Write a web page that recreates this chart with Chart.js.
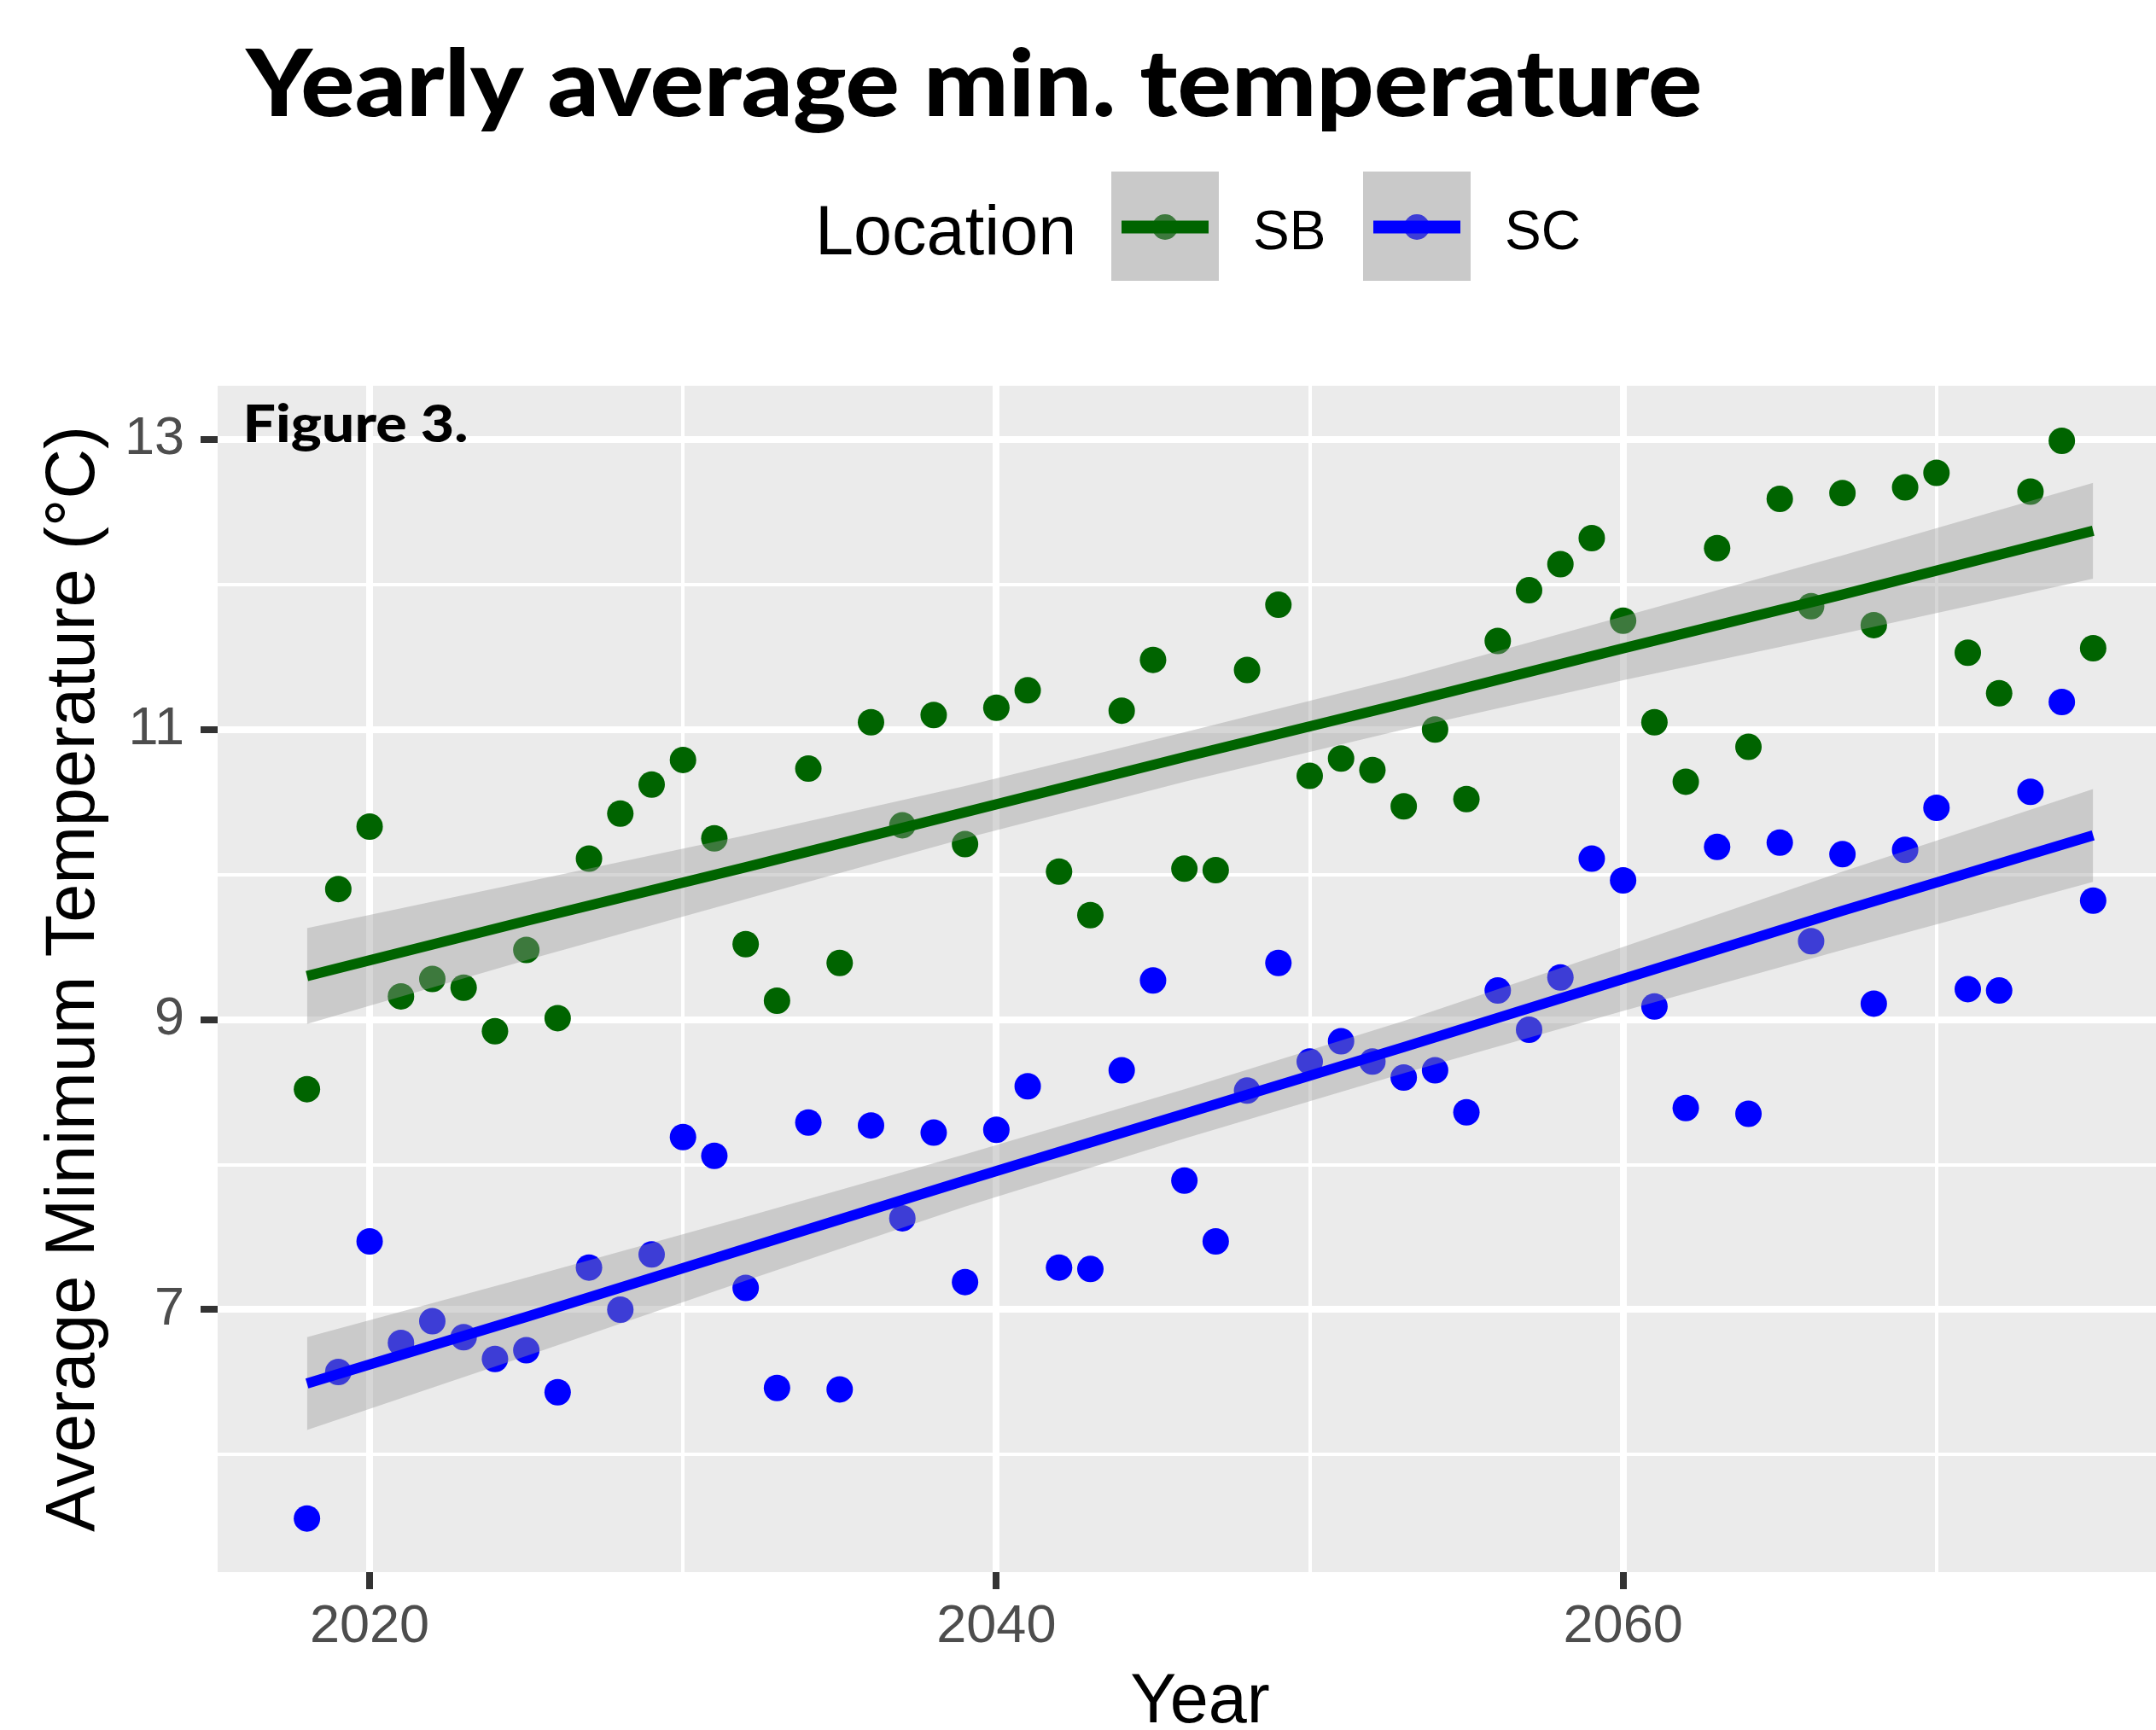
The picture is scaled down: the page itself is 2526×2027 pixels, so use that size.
<!DOCTYPE html>
<html>
<head>
<meta charset="utf-8">
<title>Yearly average min. temperature</title>
<script src="https://cdn.jsdelivr.net/npm/chart.js@4.4.1/dist/chart.umd.min.js"></script>
<style>
    html, body { margin: 0; padding: 0; background: #ffffff; overflow: hidden; }
    #wrap { position: relative; width: 2560px; height: 2027px; }
    #tempChart { display: block; }
</style>
</head>
<body>
<div id="wrap"><canvas id="tempChart" width="2560" height="2027"></canvas></div>
<script>
// Yearly average minimum temperature (°C) for both locations
const years = [2018, 2019, 2020, 2021, 2022, 2023, 2024, 2025, 2026, 2027,
    2028, 2029, 2030, 2031, 2032, 2033, 2034, 2035, 2036, 2037,
    2038, 2039, 2040, 2041, 2042, 2043, 2044, 2045, 2046, 2047,
    2048, 2049, 2050, 2051, 2052, 2053, 2054, 2055, 2056, 2057,
    2058, 2059, 2060, 2061, 2062, 2063, 2064, 2065, 2066, 2067,
    2068, 2069, 2070, 2071, 2072, 2073, 2074, 2075];

const sbTemps = [8.52, 9.90, 10.33, 9.16, 9.28, 9.22, 8.92, 9.48, 9.01, 10.11,
    10.42, 10.62, 10.79, 10.25, 9.52, 9.13, 10.73, 9.39, 11.05, 10.34,
    11.10, 10.21, 11.15, 11.27, 10.02, 9.72, 11.13, 11.48, 10.04, 10.03,
    11.41, 11.86, 10.68, 10.80, 10.72, 10.47, 11.00, 10.52, 11.61, 11.96,
    12.14, 12.32, 11.75, 11.05, 10.64, 12.25, 10.88, 12.59, 11.85, 12.63,
    11.72, 12.67, 12.77, 11.53, 11.25, 12.64, 12.99, 11.56];

const scTemps = [5.56, 6.57, 7.47, 6.77, 6.92, 6.81, 6.66, 6.72, 6.43, 7.29,
    7.00, 7.38, 8.19, 8.06, 7.15, 6.46, 8.29, 6.45, 8.27, 7.63,
    8.22, 7.19, 8.24, 8.54, 7.29, 7.28, 8.65, 9.27, 7.89, 7.47,
    8.51, 9.39, 8.71, 8.85, 8.71, 8.60, 8.65, 8.36, 9.20, 8.93,
    9.29, 10.11, 9.96, 9.09, 8.39, 10.19, 8.35, 10.22, 9.54, 10.14,
    9.11, 10.17, 10.46, 9.21, 9.20, 10.57, 11.19, 9.82];

// Linear trend lines and their grey bands
const trendYears = [2018, 2025, 2032, 2039, 2046, 2053, 2060, 2067, 2075];
const sbTrend = [9.30, 9.68, 10.05, 10.43, 10.81, 11.18, 11.56, 11.93, 12.37];
const sbLow   = [8.97, 9.41, 9.83, 10.25, 10.64, 11.00, 11.34, 11.66, 12.04];
const sbHigh  = [9.63, 9.95, 10.27, 10.61, 10.98, 11.36, 11.78, 12.20, 12.70];
const scTrend = [6.49, 6.95, 7.42, 7.89, 8.35, 8.81, 9.28, 9.75, 10.27];
const scLow   = [6.17, 6.68, 7.20, 7.71, 8.18, 8.63, 9.06, 9.48, 9.95];
const scHigh  = [6.81, 7.22, 7.64, 8.07, 8.52, 8.99, 9.50, 10.02, 10.59];

// Axis ticks (empty label = minor grid line)
const xTicks  = [2020, 2030, 2040, 2050, 2060, 2070];
const xLabels = ['2020', '', '2040', '', '2060', ''];
const yTicks  = [6, 7, 8, 9, 10, 11, 12, 13];
const yLabels = ['', '7', '', '9', '', '11', '', '13'];

const SB_COLOR = '#006400';
const SC_COLOR = '#0000ff';
const BAND_COLOR = 'rgba(153, 153, 153, 0.4)';
const AXIS_FONT = '"Liberation Sans", Arial, sans-serif';

function toPoints(xs, ys) {
    return xs.map((x, i) => ({ x: x, y: ys[i] }));
}

function pointSet(label, values, color, order) {
    return {
        type: 'scatter', label: label, data: toPoints(years, values),
        backgroundColor: color, borderWidth: 0,
        pointRadius: 15.5, pointHoverRadius: 15.5, order: order
    };
}

function bandSet(values, fill, order) {
    return {
        type: 'line', data: toPoints(trendYears, values),
        borderColor: 'transparent', borderWidth: 0, pointRadius: 0,
        backgroundColor: BAND_COLOR, fill: fill, tension: 0, order: order
    };
}

function trendSet(values, color, order) {
    return {
        type: 'line', data: toPoints(trendYears, values),
        borderColor: color, borderWidth: 12, pointRadius: 0,
        fill: false, tension: 0, order: order
    };
}

function isMajor(labels, ctx) {
    return ctx.index !== undefined && labels[ctx.index] !== '' && labels[ctx.index] !== undefined;
}

// Grey panel behind the grid
const panelBackground = {
    id: 'panelBackground',
    beforeDraw(chart) {
        const { ctx, chartArea } = chart;
        ctx.save();
        ctx.fillStyle = '#ffffff';
        ctx.fillRect(0, 0, chart.width, chart.height);
        ctx.fillStyle = '#ebebeb';
        ctx.fillRect(chartArea.left, chartArea.top, chartArea.right - chartArea.left, chartArea.bottom - chartArea.top);
        ctx.restore();
    }
};

// Draw text so its ink fits a given box (left edge, baseline, cap height, width)
function drawFitted(ctx, text, family, weight, left, baseline, capHeight, width) {
    ctx.font = weight + ' 100px ' + family;
    const m = ctx.measureText('H');
    const size = 100 * capHeight / m.actualBoundingBoxAscent;
    ctx.font = weight + ' ' + size + 'px ' + family;
    const t = ctx.measureText(text);
    const ink = t.actualBoundingBoxLeft + t.actualBoundingBoxRight;
    const sx = width / ink;
    ctx.save();
    ctx.translate(left, baseline);
    ctx.scale(sx, 1);
    ctx.textBaseline = 'alphabetic';
    ctx.textAlign = 'left';
    ctx.fillText(text, t.actualBoundingBoxLeft, 0);
    ctx.restore();
}

// Title, figure tag and the "Location" legend
const annotations = {
    id: 'annotations',
    afterDraw(chart) {
        const ctx = chart.ctx;
        ctx.save();
        ctx.fillStyle = '#000000';
        drawFitted(ctx, 'Yearly average min. temperature', 'Lato, "Noto Sans", sans-serif', '900', 286, 136, 79, 1705);
        drawFitted(ctx, 'Figure 3.', 'Lato, "Noto Sans", sans-serif', '900', 289, 518, 44, 258);

        ctx.font = '81px ' + AXIS_FONT;
        ctx.textBaseline = 'alphabetic';
        ctx.fillText('Location', 955, 298);

        const keys = [
            { x: 1302, label: 'SB', lx: 1468, color: SB_COLOR, dot: '#3d793d' },
            { x: 1597, label: 'SC', lx: 1763, color: SC_COLOR, dot: '#3d3dd6' }
        ];
        keys.forEach(k => {
            ctx.fillStyle = '#c9c9c9';
            ctx.fillRect(k.x, 201, 126, 128);
            ctx.fillStyle = k.dot;
            ctx.beginPath();
            ctx.arc(k.x + 63, 266, 15, 0, Math.PI * 2);
            ctx.fill();
            ctx.strokeStyle = k.color;
            ctx.lineWidth = 15;
            ctx.beginPath();
            ctx.moveTo(k.x + 12, 266);
            ctx.lineTo(k.x + 114, 266);
            ctx.stroke();
            ctx.fillStyle = '#000000';
            ctx.font = '64px ' + AXIS_FONT;
            ctx.fillText(k.label, k.lx, 292);
        });
        ctx.restore();
    }
};

new Chart(document.getElementById('tempChart'), {
    type: 'scatter',
    data: {
        datasets: [
            pointSet('SB', sbTemps, SB_COLOR, 6),
            pointSet('SC', scTemps, SC_COLOR, 5),
            bandSet(sbHigh, '+1', 4),
            bandSet(sbLow, false, 4),
            trendSet(sbTrend, SB_COLOR, 3),
            bandSet(scHigh, '+1', 2),
            bandSet(scLow, false, 2),
            trendSet(scTrend, SC_COLOR, 1)
        ]
    },
    options: {
        responsive: false,
        maintainAspectRatio: false,
        animation: false,
        layout: { autoPadding: false, padding: { top: 452, right: 3, left: 0, bottom: 0 } },
        plugins: {
            legend: { display: false },
            title: { display: false },
            tooltip: { enabled: false }
        },
        scales: {
            x: {
                type: 'linear',
                min: 2015.15,
                max: 2077.85,
                afterBuildTicks: scale => { scale.ticks = xTicks.map(v => ({ value: v })); },
                afterFit: scale => { scale.height = 185; },
                border: { display: false },
                grid: {
                    color: '#ffffff',
                    lineWidth: ctx => isMajor(xLabels, ctx) ? 8 : 4,
                    tickLength: 20,
                    tickWidth: 8,
                    tickColor: ctx => isMajor(xLabels, ctx) ? '#333333' : 'rgba(0,0,0,0)'
                },
                ticks: {
                    autoSkip: false,
                    maxRotation: 0,
                    padding: 7,
                    color: '#4d4d4d',
                    font: { family: AXIS_FONT, size: 63 },
                    callback: value => xLabels[xTicks.indexOf(value)]
                },
                title: {
                    display: true,
                    text: 'Year',
                    color: '#000000',
                    font: { family: AXIS_FONT, size: 81, lineHeight: 0.75 },
                    padding: { top: 0, bottom: 1 }
                }
            },
            y: {
                type: 'linear',
                min: 5.19,
                max: 13.37,
                afterBuildTicks: scale => { scale.ticks = yTicks.map(v => ({ value: v })); },
                afterFit: scale => { scale.width = 255; },
                border: { display: false },
                grid: {
                    color: '#ffffff',
                    lineWidth: ctx => isMajor(yLabels, ctx) ? 8 : 4,
                    tickLength: 20,
                    tickWidth: 8,
                    tickColor: ctx => isMajor(yLabels, ctx) ? '#333333' : 'rgba(0,0,0,0)'
                },
                ticks: {
                    autoSkip: false,
                    padding: 19,
                    color: '#4d4d4d',
                    font: { family: AXIS_FONT, size: 63 },
                    callback: value => yLabels[yTicks.indexOf(value)]
                },
                title: {
                    display: true,
                    text: 'Average Minimum Temperature (°C)',
                    color: '#000000',
                    font: { family: AXIS_FONT, size: 81, lineHeight: 0.75 },
                    padding: { top: 57, bottom: 0 }
                }
            }
        }
    },
    plugins: [panelBackground, annotations]
});
</script>
</body>
</html>
